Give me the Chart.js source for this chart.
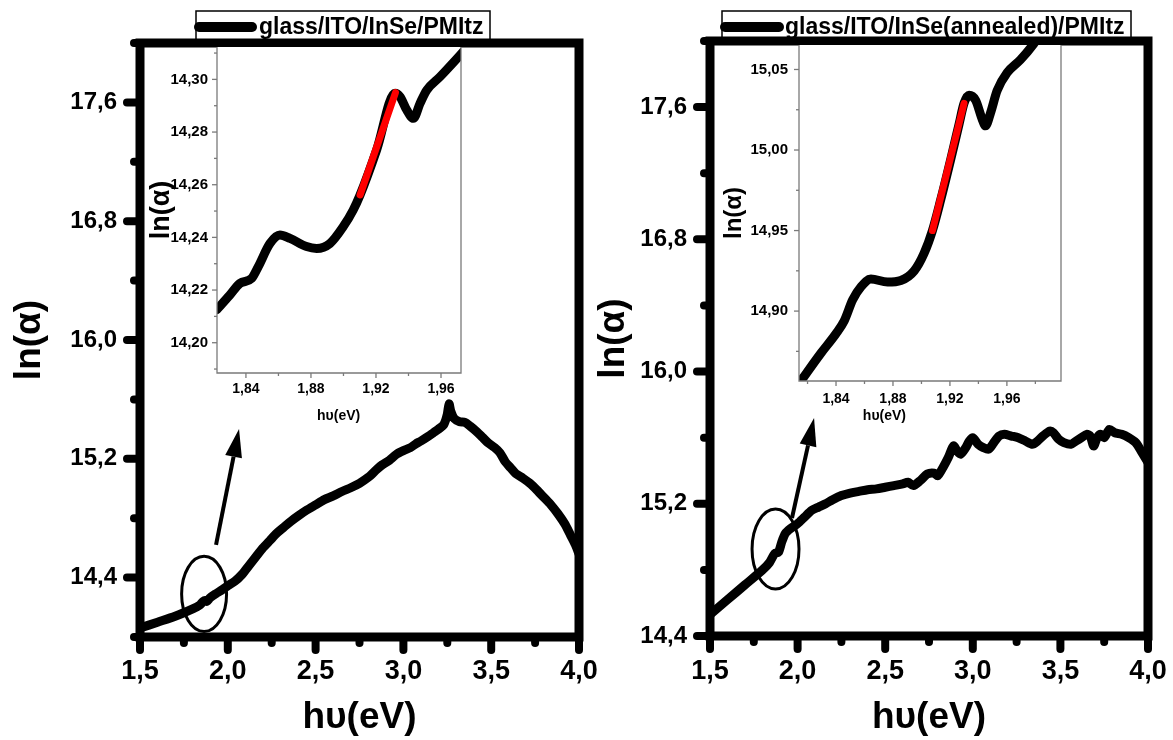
<!DOCTYPE html>
<html>
<head>
<meta charset="utf-8">
<title>ln(α) vs hυ</title>
<script src="https://cdn.jsdelivr.net/npm/chart.js@4.4.1/dist/chart.umd.min.js"></script>
<style>
  body { margin: 0; background: #fff; }
  #page { position: relative; width: 1173px; height: 740px; overflow: hidden; background: #fff; }
  canvas { position: absolute; }
</style>
</head>
<body>
<div id="page">
  <canvas id="mainA" width="640" height="740" style="left:0;top:0"></canvas>
  <canvas id="mainB" width="600" height="740" style="left:573px;top:0"></canvas>
  <canvas id="insetA" width="330" height="390" style="left:145px;top:47px"></canvas>
  <canvas id="insetB" width="355" height="400" style="left:720px;top:45px"></canvas>
</div>
<script>
// glass/ITO/InSe/PMItz - main curve
const energyA = [1.50, 1.60, 1.70, 1.80, 1.84, 1.86, 1.87, 1.88, 1.90, 1.93, 1.97, 2.00, 2.04, 2.08, 2.12, 2.16, 2.20, 2.24, 2.28, 2.32,
  2.36, 2.40, 2.45, 2.50, 2.55, 2.60, 2.65, 2.70, 2.75, 2.80, 2.85, 2.88, 2.92, 2.96, 3.00, 3.04, 3.07, 3.10, 3.14, 3.17,
  3.20, 3.23, 3.25, 3.26, 3.27, 3.29, 3.32, 3.35, 3.38, 3.42, 3.45, 3.48, 3.52, 3.55, 3.58, 3.61, 3.64, 3.68, 3.72, 3.76,
  3.80, 3.84, 3.88, 3.92, 3.95, 3.98, 4.00];
const lnAlphaA = [14.06, 14.10, 14.14, 14.19, 14.215, 14.24, 14.245, 14.24, 14.265, 14.29, 14.32, 14.345, 14.375, 14.42, 14.48, 14.54, 14.60, 14.65, 14.70, 14.74,
  14.78, 14.815, 14.855, 14.89, 14.925, 14.95, 14.98, 15.005, 15.035, 15.075, 15.13, 15.16, 15.19, 15.23, 15.255, 15.275, 15.30, 15.32, 15.35, 15.375,
  15.40, 15.43, 15.50, 15.57, 15.52, 15.47, 15.45, 15.445, 15.42, 15.38, 15.345, 15.31, 15.275, 15.24, 15.18, 15.14, 15.10, 15.07, 15.035, 14.99,
  14.94, 14.89, 14.83, 14.76, 14.69, 14.62, 14.56];

// glass/ITO/InSe(annealed)/PMItz - main curve
const energyB = [1.50, 1.60, 1.70, 1.80, 1.84, 1.87, 1.89, 1.91, 1.93, 1.96, 2.00, 2.04, 2.08, 2.12, 2.16, 2.20, 2.25, 2.30, 2.35, 2.40,
  2.45, 2.50, 2.55, 2.60, 2.63, 2.66, 2.70, 2.74, 2.78, 2.80, 2.83, 2.86, 2.89, 2.91, 2.93, 2.96, 2.98, 3.00, 3.03, 3.06,
  3.09, 3.12, 3.15, 3.18, 3.22, 3.26, 3.30, 3.34, 3.37, 3.40, 3.44, 3.46, 3.49, 3.52, 3.56, 3.59, 3.62, 3.65, 3.67, 3.69,
  3.71, 3.73, 3.75, 3.78, 3.81, 3.85, 3.89, 3.93, 3.96, 4.00];
const lnAlphaB = [14.53, 14.62, 14.71, 14.80, 14.845, 14.90, 14.905, 14.97, 15.02, 15.05, 15.08, 15.12, 15.16, 15.18, 15.20, 15.225, 15.25, 15.265, 15.275, 15.285,
  15.29, 15.30, 15.31, 15.32, 15.33, 15.31, 15.34, 15.38, 15.385, 15.37, 15.42, 15.48, 15.55, 15.52, 15.50, 15.54, 15.58, 15.60, 15.56, 15.54,
  15.53, 15.57, 15.61, 15.62, 15.61, 15.60, 15.58, 15.56, 15.58, 15.61, 15.64, 15.63, 15.59, 15.57, 15.56, 15.58, 15.60, 15.62, 15.61, 15.55,
  15.60, 15.62, 15.60, 15.65, 15.63, 15.62, 15.60, 15.57, 15.52, 15.45];

// insets (zoom around 1.82 - 2.0 eV)
const insetEnergyA = [1.822, 1.830, 1.8363, 1.8435, 1.8476, 1.8548, 1.8609, 1.8671, 1.8773, 1.8835, 1.8917, 1.8999, 1.9060, 1.9102,
  1.9204, 1.9317, 1.9348, 1.9389, 1.9430, 1.9471, 1.9512, 1.9594, 1.9717, 1.9750];
const insetLnA = [14.2125, 14.218, 14.2225, 14.2244, 14.2289, 14.2377, 14.2409, 14.2396, 14.2365, 14.2358, 14.2377, 14.2441, 14.2504, 14.2561,
  14.2732, 14.2947, 14.2934, 14.2884, 14.2852, 14.2909, 14.2959, 14.3010, 14.3092, 14.3115];
const fitEnergyA = [1.9102, 1.9320];
const fitLnA = [14.2561, 14.2950];

const insetEnergyB = [1.814, 1.8295, 1.840, 1.8458, 1.8517, 1.8575, 1.8645, 1.8762, 1.8855, 1.8949, 1.9019, 1.9077, 1.9135,
  1.9205, 1.9264, 1.9299, 1.9334, 1.9380, 1.9427, 1.9450, 1.9485, 1.9532, 1.9602, 1.9695, 1.9789, 1.9820];
const insetLnB = [14.855, 14.874, 14.886, 14.894, 14.907, 14.915, 14.920, 14.918, 14.919, 14.925, 14.936, 14.950, 14.969,
  14.994, 15.016, 15.029, 15.034, 15.031, 15.019, 15.015, 15.023, 15.037, 15.048, 15.056, 15.066, 15.070];
const fitEnergyB = [1.9077, 1.9299];
const fitLnB = [14.950, 15.029];

// tick values
const mainXMajor = [1.5, 2.0, 2.5, 3.0, 3.5, 4.0];
const mainXMinor = [1.75, 2.25, 2.75, 3.25, 3.75];
const mainYMajor = [14.4, 15.2, 16.0, 16.8, 17.6];
const mainYMinorA = [14.0, 14.8, 15.6, 16.4, 17.2, 18.0];
const mainYMinorB = [14.8, 15.6, 16.4, 17.2, 18.0];
const insetXMajor = [1.84, 1.88, 1.92, 1.96];
const insetXMinorA = [1.86, 1.90, 1.94];
const insetXMinorB = [1.82, 1.86, 1.90, 1.94, 1.98];
const insetYMajorA = [14.20, 14.22, 14.24, 14.26, 14.28, 14.30];
const insetYMinorA = [14.19, 14.21, 14.23, 14.25, 14.27, 14.29, 14.31];
const insetYMajorB = [14.90, 14.95, 15.00, 15.05];
const insetYMinorB = [14.875, 14.925, 14.975, 15.025];

const FONT = '"Liberation Sans", Arial, sans-serif';
Chart.defaults.font.family = FONT;
Chart.defaults.color = '#000';

const comma = d => v => v.toFixed(d).replace('.', ',');
const pts = (xs, ys) => xs.map((x, i) => ({ x: x, y: ys[i] }));

// frame around the plot area + tick marks
const frameTicks = {
  id: 'frameTicks',
  afterDatasetsDraw(chart, args, o) {
    const { ctx, chartArea: a, scales: { x, y } } = chart;
    ctx.save();
    ctx.strokeStyle = o.color;
    ctx.lineWidth = o.frameWidth;
    ctx.lineJoin = 'miter';
    ctx.beginPath();
    if (o.full) {
      ctx.rect(a.left, a.top, a.right - a.left, a.bottom - a.top);
    } else {
      ctx.moveTo(a.left, a.top);
      ctx.lineTo(a.left, a.bottom);
      ctx.lineTo(a.right, a.bottom);
      ctx.lineTo(a.right, a.top);
    }
    ctx.stroke();
    ctx.lineWidth = o.tickWidth;
    ctx.lineCap = o.cap;
    const line = (x1, y1, x2, y2) => { ctx.beginPath(); ctx.moveTo(x1, y1); ctx.lineTo(x2, y2); ctx.stroke(); };
    o.xMajor.forEach(v => { const p = x.getPixelForValue(v); line(p, a.bottom, p, a.bottom + o.major); });
    o.xMinor.forEach(v => { const p = x.getPixelForValue(v); line(p, a.bottom, p, a.bottom + o.minor); });
    o.yMajor.forEach(v => { const p = y.getPixelForValue(v); line(a.left, p, a.left - o.major, p); });
    o.yMinor.forEach(v => { const p = y.getPixelForValue(v); line(a.left, p, a.left - o.minor, p); });
    ctx.restore();
  }
};

// legend box, ellipse, arrow, free axis title
const notes = {
  id: 'notes',
  beforeDatasetsDraw(chart, args, o) {
    const { ctx, chartArea: a } = chart;
    ctx.save();
    if (o.fillArea) {
      ctx.fillStyle = '#fff';
      ctx.fillRect(a.left, a.top, a.right - a.left, a.bottom - a.top);
    }
    if (o.legend) {
      const L = o.legend;
      ctx.fillStyle = '#fff';
      ctx.fillRect(L.box[0], L.box[1], L.box[2], L.box[3]);
      ctx.strokeStyle = '#000';
      ctx.lineWidth = 1.5;
      ctx.strokeRect(L.box[0], L.box[1], L.box[2], L.box[3]);
      ctx.lineWidth = 10;
      ctx.lineCap = 'round';
      ctx.beginPath();
      ctx.moveTo(L.line[0], L.line[2]);
      ctx.lineTo(L.line[1], L.line[2]);
      ctx.stroke();
      ctx.fillStyle = '#000';
      ctx.font = 'bold 23px ' + FONT;
      ctx.textBaseline = 'middle';
      ctx.fillText(L.text, L.textX, L.textY);
    }
    ctx.restore();
  },
  afterDraw(chart, args, o) {
    const { ctx, chartArea: a, scales: { x, y } } = chart;
    ctx.save();
    ctx.strokeStyle = '#000';
    ctx.fillStyle = '#000';
    if (o.ellipse) {
      const e = o.ellipse;
      const cx = x.getPixelForValue(e.x), cy = y.getPixelForValue(e.y);
      const rx = Math.abs(x.getPixelForValue(e.x + e.rx) - cx);
      const ry = Math.abs(y.getPixelForValue(e.y + e.ry) - cy);
      ctx.lineWidth = 3;
      ctx.beginPath();
      ctx.ellipse(cx, cy, rx, ry, 0, 0, Math.PI * 2);
      ctx.stroke();
    }
    if (o.arrow) {
      const r = o.arrow;
      const sx = x.getPixelForValue(r.from[0]), sy = y.getPixelForValue(r.from[1]);
      const tx = x.getPixelForValue(r.to[0]), ty = y.getPixelForValue(r.to[1]);
      const ang = Math.atan2(ty - sy, tx - sx);
      const hl = 28, hw = 17;
      const bx = tx - hl * Math.cos(ang), by = ty - hl * Math.sin(ang);
      ctx.lineWidth = 4;
      ctx.beginPath();
      ctx.moveTo(sx, sy);
      ctx.lineTo(bx, by);
      ctx.stroke();
      ctx.beginPath();
      ctx.moveTo(tx, ty);
      ctx.lineTo(bx + hw / 2 * Math.sin(ang), by - hw / 2 * Math.cos(ang));
      ctx.lineTo(bx - hw / 2 * Math.sin(ang), by + hw / 2 * Math.cos(ang));
      ctx.closePath();
      ctx.fill();
    }
    if (o.xTitle) {
      const t = o.xTitle;
      ctx.font = 'bold ' + t.size + 'px ' + FONT;
      ctx.textAlign = 'center';
      ctx.textBaseline = 'middle';
      ctx.fillText(t.text, x.getPixelForValue(t.at), a.bottom + t.dy);
    }
    ctx.restore();
  }
};

function makeChart(id, sets, c) {
  return new Chart(document.getElementById(id), {
    type: 'line',
    data: { datasets: sets },
    options: {
      responsive: false,
      animation: false,
      events: [],
      layout: { padding: c.pad },
      elements: { point: { radius: 0 } },
      plugins: {
        legend: { display: false },
        tooltip: { enabled: false },
        frameTicks: c.frame,
        notes: c.notes
      },
      scales: {
        x: {
          type: 'linear', min: c.xMin, max: c.xMax,
          grid: { display: false, drawTicks: false }, border: { display: false },
          afterBuildTicks: s => { s.ticks = c.frame.xMajor.concat(c.frame.xMinor).sort((p, q) => p - q).map(v => ({ value: v })); },
          afterFit: s => { s.height = c.xHeight; s.paddingLeft = 0; s.paddingRight = 0; },
          ticks: {
            autoSkip: false, maxRotation: 0, padding: c.xPad,
            font: { size: c.xFont, weight: 'bold' },
            callback: v => c.frame.xMajor.includes(v) ? comma(c.xDec)(v) : ''
          },
          title: c.xTitle
        },
        y: {
          type: 'linear', min: c.yMin, max: c.yMax,
          grid: { display: false, drawTicks: false }, border: { display: false },
          afterBuildTicks: s => { s.ticks = c.frame.yMajor.concat(c.frame.yMinor).sort((p, q) => p - q).map(v => ({ value: v })); },
          afterFit: s => { s.width = c.yWidth; s.paddingTop = 0; s.paddingBottom = 0; },
          ticks: {
            autoSkip: false, padding: c.yPad,
            font: { size: c.yFont, weight: 'bold' },
            callback: v => c.frame.yMajor.includes(v) ? comma(c.yDec)(v) : ''
          },
          title: c.yTitle
        }
      }
    },
    plugins: [frameTicks, notes]
  });
}

const mainLine = (xs, ys) => ({
  data: pts(xs, ys), borderColor: '#000', borderWidth: 9, tension: 0.25,
  borderJoinStyle: 'round', borderCapStyle: 'round', pointRadius: 0
});
const insetLine = (xs, ys, color, w) => ({
  data: pts(xs, ys), borderColor: color, borderWidth: w, cubicInterpolationMode: 'monotone',
  borderJoinStyle: 'round', borderCapStyle: 'round', pointRadius: 0
});

const mainFrame = (minor) => ({
  color: '#000', full: true, frameWidth: 9, tickWidth: 8, cap: 'round', major: 13, minor: 6,
  xMajor: mainXMajor, xMinor: mainXMinor, yMajor: mainYMajor, yMinor: minor
});
const insetFrame = (xMinor, yMajor, yMinor) => ({
  color: '#7a7a7a', full: false, frameWidth: 1.3, tickWidth: 1.3, cap: 'butt', major: 5, minor: 3,
  xMajor: insetXMajor, xMinor: xMinor, yMajor: yMajor, yMinor: yMinor
});

makeChart('mainA', [mainLine(energyA, lnAlphaA)], {
  pad: { left: 0, top: 43, right: 61, bottom: 0 },
  xMin: 1.5, xMax: 4.0, yMin: 14.0, yMax: 18.0,
  xHeight: 103, yWidth: 140, xPad: 18, yPad: 23, xFont: 27, yFont: 24, xDec: 1, yDec: 1,
  xTitle: { display: true, text: 'hυ(eV)', font: { size: 37, weight: 'bold' }, padding: { top: 0, bottom: 0 } },
  yTitle: { display: true, text: 'ln(α)', font: { size: 37, weight: 'bold' }, padding: { top: 8, bottom: 0 } },
  frame: mainFrame(mainYMinorA),
  notes: {
    legend: { box: [196, 11, 294, 30], line: [199, 252, 27], text: 'glass/ITO/InSe/PMItz', textX: 259, textY: 28 },
    ellipse: { x: 1.865, y: 14.29, rx: 0.128, ry: 0.253 },
    arrow: { from: [1.933, 14.62], to: [2.064, 15.40] }
  }
});

makeChart('mainB', [mainLine(energyB, lnAlphaB)], {
  pad: { left: 0, top: 41, right: 25, bottom: 0 },
  xMin: 1.5, xMax: 4.0, yMin: 14.4, yMax: 18.0,
  xHeight: 104, yWidth: 137, xPad: 19, yPad: 23, xFont: 27, yFont: 24, xDec: 1, yDec: 1,
  xTitle: { display: true, text: 'hυ(eV)', font: { size: 37, weight: 'bold' }, padding: { top: 0, bottom: 0 } },
  yTitle: { display: true, text: 'ln(α)', font: { size: 37, weight: 'bold' }, padding: { top: 19, bottom: 0 } },
  frame: mainFrame(mainYMinorB),
  notes: {
    legend: { box: [149, 11, 409, 30], line: [152, 206, 27], text: 'glass/ITO/InSe(annealed)/PMItz', textX: 212, textY: 28 },
    ellipse: { x: 1.874, y: 14.926, rx: 0.134, ry: 0.242 },
    arrow: { from: [1.968, 15.114], to: [2.094, 15.719] }
  }
});

// red fit segment first so it is drawn on top of the black curve
makeChart('insetA', [insetLine(fitEnergyA, fitLnA, '#ff0000', 7), insetLine(insetEnergyA, insetLnA, '#000', 9)], {
  pad: { left: 0, top: 0, right: 14, bottom: 0 },
  xMin: 1.8222, xMax: 1.9723, yMin: 14.1885, yMax: 14.3123,
  xHeight: 64, yWidth: 72, xPad: 8, yPad: 9, xFont: 14, yFont: 15, xDec: 2, yDec: 2,
  xTitle: { display: false },
  yTitle: { display: true, text: 'ln(α)', font: { size: 27, weight: 'bold' }, padding: { top: 0, bottom: 0 } },
  frame: insetFrame(insetXMinorA, insetYMajorA, insetYMinorA),
  notes: { fillArea: true, xTitle: { text: 'hυ(eV)', at: 1.897, dy: 43, size: 14 } }
});

makeChart('insetB', [insetLine(fitEnergyB, fitLnB, '#ff0000', 7), insetLine(insetEnergyB, insetLnB, '#000', 9)], {
  pad: { left: 0, top: 0, right: 14, bottom: 0 },
  xMin: 1.814, xMax: 1.998, yMin: 14.8566, yMax: 15.0652,
  xHeight: 64, yWidth: 79, xPad: 10, yPad: 11, xFont: 14, yFont: 15, xDec: 2, yDec: 2,
  xTitle: { display: false },
  yTitle: { display: true, text: 'ln(α)', font: { size: 24, weight: 'bold' }, padding: { top: 0, bottom: 0 } },
  frame: insetFrame(insetXMinorB, insetYMajorB, insetYMinorB),
  notes: { fillArea: true, xTitle: { text: 'hυ(eV)', at: 1.874, dy: 35, size: 14 } }
});
</script>
</body>
</html>
